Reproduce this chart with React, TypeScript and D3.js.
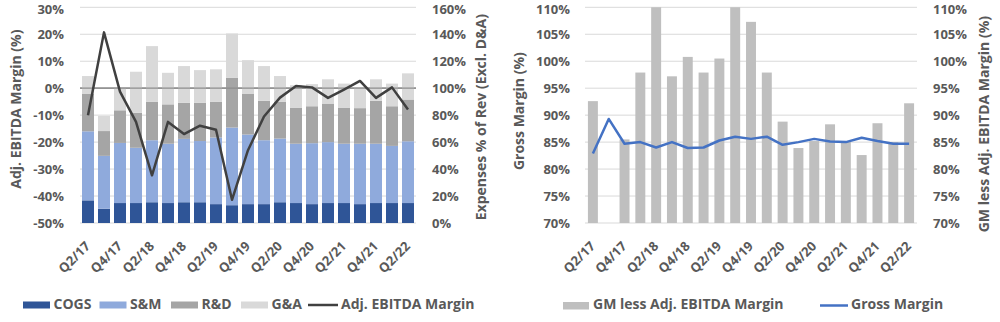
import React from "react";
import * as d3 from "d3";

const categories = ["Q2/17","Q3/17","Q4/17","Q1/18","Q2/18","Q3/18","Q4/18","Q1/19","Q2/19","Q3/19","Q4/19","Q1/20","Q2/20","Q3/20","Q4/20","Q1/21","Q2/21","Q3/21","Q4/21","Q1/22","Q2/22"];
const cogs = [16.8,10.6,14.8,14.8,15.4,14.8,15.4,15.4,14,13.2,14,14,15.4,14.8,14,14.8,14.8,14,14.8,14.8,14.8];
const sm = [51.2,39.2,44.6,41,46,44,47,45.4,49.4,57.6,51.6,47.4,47.2,44,45.2,45.2,44,44.8,44,42.4,45.8];
const rd = [28,18.4,24.2,26,28.4,29.2,26.8,28.4,26.6,37,30.4,29.2,27.2,26.8,27.4,28.6,26.8,26.4,31.8,29.4,31];
const ga = [13,11.2,16.4,30.4,41.4,23.4,27.2,24.2,24,32.8,24.8,25.8,19.2,16.6,16.4,18,17.8,15.4,16,16.8,19.4];
const ebitdaMargin = [-10,20.7,-1.3,-12.5,-32.3,-12.5,-17,-13.9,-15.4,-41.4,-23,-10.5,-3.5,0.8,0.3,-3.6,-0.5,2.7,-3.6,0.3,-7.9];
const gmLessEbitda = [92.6,68.6,85.5,97.9,116.3,97.2,100.8,97.9,100.5,127.4,107.3,97.9,88.8,83.9,85.2,88.3,85.1,82.6,88.5,85,92.2];
const grossMargin = [82.9,89.3,84.7,85.0,84.0,85.0,83.9,84.0,85.3,86.0,85.6,86.0,84.5,85.0,85.6,85.1,85.0,85.8,85.2,84.7,84.7];

const leftTicks = [-50,-40,-30,-20,-10,0,10,20,30];
const rightTicks = [0,20,40,60,80,100,120,140,160];
const gmTicks = [70,75,80,85,90,95,100,105,110];
const labelCats = categories.filter((_, i) => i % 2 === 0);

const expenseSeries = [
  { name: "COGS", values: cogs, color: "#2F5597" },
  { name: "S&M", values: sm, color: "#8FAADC" },
  { name: "R&D", values: rd, color: "#A5A5A5" },
  { name: "G&A", values: ga, color: "#D9D9D9" },
];

const FONT = "'Open Sans', sans-serif";
const TXT = "#595959";
const TOP = 7.3;
const BOTTOM = 223;

export default function App() {
  const x1 = d3.scaleBand<string>().domain(categories).range([80, 416]).paddingInner(0.25).paddingOuter(0.125);
  const yL = d3.scaleLinear().domain([-50, 30]).range([BOTTOM, TOP]);
  const yR = d3.scaleLinear().domain([0, 160]).range([BOTTOM, TOP]);

  const stack = d3.stack<number>().keys(expenseSeries.map((s) => s.name)).value((i, key) => {
    const s = expenseSeries.find((e) => e.name === key)!;
    return s.values[i];
  });
  const stacked = stack(categories.map((_, i) => i));

  const line1 = d3.line<number>().x((d, i) => x1(categories[i])! + x1.bandwidth() / 2).y((d) => yL(d));

  const x2 = d3.scaleBand<string>().domain(categories).range([585, 917]).paddingInner(0.37).paddingOuter(0.185);
  const yG = d3.scaleLinear().domain([70, 110]).range([BOTTOM, TOP]);
  const line2 = d3.line<number>().x((d, i) => x2(categories[i])! + x2.bandwidth() / 2).y((d) => yG(d));

  const tickStyle = { fontFamily: FONT, fontSize: 13, fontWeight: 700, fill: TXT } as const;
  const titleStyle = { fontFamily: FONT, fontSize: 14, fontWeight: 700, fill: TXT } as const;
  const ty = (v: number) => Math.max(v + 1.4, 10.6);

  return (
    <svg width={1000} height={322} style={{ position: "absolute", left: 0, top: 0, background: "#fff" }}>
      <defs>
        <clipPath id="gmclip">
          <rect x={575} y={TOP} width={350} height={BOTTOM - TOP} />
        </clipPath>
      </defs>
      <rect x={0} y={0} width={1000} height={322} fill="#fff" />

      {/* ===== Left chart ===== */}
      {leftTicks.map((t) => (
        <line key={"gl" + t} x1={80} x2={416} y1={yL(t)} y2={yL(t)} stroke={t === 0 ? "#8C8C8C" : "#D9D9D9"} strokeWidth={t === 0 ? 1.3 : 1} />
      ))}
      {stacked.map((layer, li) => (
        <g key={layer.key} fill={expenseSeries[li].color}>
          {layer.map((d, i) => (
            <rect key={i} x={x1(categories[i])} width={x1.bandwidth()} y={yR(d[1])} height={yR(d[0]) - yR(d[1])} />
          ))}
        </g>
      ))}
      <line x1={80} x2={416} y1={yL(0)} y2={yL(0)} stroke="#8C8C8C" strokeWidth={1.3} />
      <path d={line1(ebitdaMargin)!} fill="none" stroke="#404040" strokeWidth={2.5} strokeLinejoin="round" />

      {leftTicks.map((t) => (
        <text key={"lt" + t} x={64} y={ty(yL(t))} textAnchor="end" dominantBaseline="middle" style={tickStyle}>{t}%</text>
      ))}
      {rightTicks.map((t) => (
        <text key={"rt" + t} x={432} y={ty(yR(t))} textAnchor="start" dominantBaseline="middle" style={tickStyle}>{t}%</text>
      ))}
      <text transform={`translate(17,${(TOP + BOTTOM) / 2 - 6}) rotate(-90)`} textAnchor="middle" dominantBaseline="middle" style={titleStyle}>Adj. EBITDA Margin (%)</text>
      <text transform={`translate(482,${(TOP + BOTTOM) / 2 + 2}) rotate(-90)`} textAnchor="middle" dominantBaseline="middle" style={titleStyle}>Expenses % of Rev (Excl. D&amp;A)</text>
      {labelCats.map((c) => (
        <text key={"xl" + c} transform={`translate(${x1(c)! + x1.bandwidth() / 2 + 3},${BOTTOM + 24}) rotate(-45)`} textAnchor="end" style={tickStyle}>{c}</text>
      ))}

      {/* Left legend */}
      {expenseSeries.map((s, i) => {
        const xs = [23, 99.5, 171, 241][i];
        return (
          <g key={"lg" + s.name}>
            <rect x={xs} y={301.5} width={27} height={7} fill={s.color} />
            <text x={xs + 30.5} y={305} dominantBaseline="middle" style={titleStyle}>{s.name}</text>
          </g>
        );
      })}
      <line x1={308} x2={338} y1={305} y2={305} stroke="#404040" strokeWidth={2.5} />
      <text x={341} y={305} dominantBaseline="middle" style={titleStyle}>Adj. EBITDA Margin</text>

      {/* ===== Right chart ===== */}
      {gmTicks.map((t) => (
        <line key={"gg" + t} x1={585} x2={917} y1={yG(t)} y2={yG(t)} stroke="#D9D9D9" strokeWidth={1} />
      ))}
      <g clipPath="url(#gmclip)" fill="#BFBFBF">
        {gmLessEbitda.map((v, i) => (
          <rect key={i} x={x2(categories[i])} width={x2.bandwidth()} y={yG(Math.max(v, 70))} height={Math.max(0, yG(70) - yG(v))} />
        ))}
      </g>
      <path d={line2(grossMargin)!} fill="none" stroke="#4472C4" strokeWidth={2.5} strokeLinejoin="round" />
      {gmTicks.map((t) => (
        <text key={"gt" + t} x={570} y={ty(yG(t))} textAnchor="end" dominantBaseline="middle" style={tickStyle}>{t}%</text>
      ))}
      {gmTicks.map((t) => (
        <text key={"gr" + t} x={933} y={ty(yG(t))} textAnchor="start" dominantBaseline="middle" style={tickStyle}>{t}%</text>
      ))}
      <text transform={`translate(520,${(TOP + BOTTOM) / 2 - 4}) rotate(-90)`} textAnchor="middle" dominantBaseline="middle" style={titleStyle}>Gross Margin (%)</text>
      <text transform={`translate(985,${(TOP + BOTTOM) / 2 + 9}) rotate(-90)`} textAnchor="middle" dominantBaseline="middle" style={titleStyle}>GM less Adj. EBITDA Margin (%)</text>
      {labelCats.map((c) => (
        <text key={"xr" + c} transform={`translate(${x2(c)! + x2.bandwidth() / 2 + 3},${BOTTOM + 24}) rotate(-45)`} textAnchor="end" style={tickStyle}>{c}</text>
      ))}

      {/* Right legend */}
      <rect x={563} y={302} width={26} height={7.5} fill="#BFBFBF" />
      <text x={593} y={305.5} dominantBaseline="middle" style={titleStyle}>GM less Adj. EBITDA Margin</text>
      <line x1={820} x2={848} y1={305.5} y2={305.5} stroke="#4472C4" strokeWidth={2.5} />
      <text x={851} y={305.5} dominantBaseline="middle" style={titleStyle}>Gross Margin</text>
    </svg>
  );
}
